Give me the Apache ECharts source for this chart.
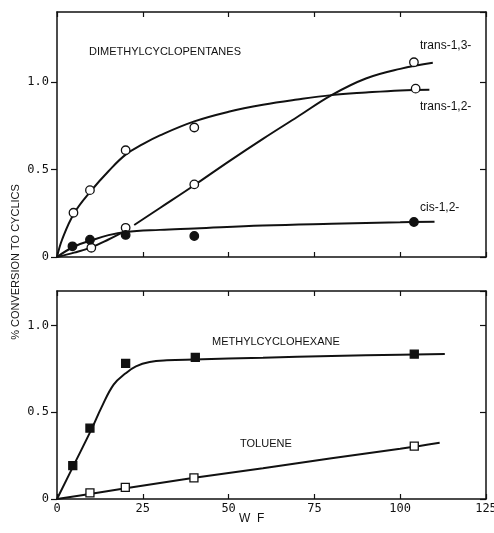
<!DOCTYPE html>
<html><head><meta charset="utf-8">
<script src="https://cdn.jsdelivr.net/npm/echarts@6/dist/echarts.min.js"></script>
<style>html,body{margin:0;padding:0;background:#fff}#c{width:494px;height:533px}</style>
</head><body><div id="c"></div>
<script>
// ---- data ----
const xTicks = [0, 25, 50, 75, 100, 125];
const trans13Pts = [[10,0.053],[20,0.167],[40,0.415],[104,1.113]];
const trans12Pts = [[4.8,0.253],[9.6,0.382],[20,0.61],[40,0.74],[104.5,0.962]];
const cis12Pts = [[4.5,0.061],[9.6,0.099],[20,0.126],[40,0.12],[104,0.2]];
const mchPts = [[4.6,0.193],[9.6,0.409],[20,0.782],[40.3,0.817],[104.1,0.836]];
const toluenePts = [[9.6,0.035],[19.9,0.067],[39.9,0.122],[104.1,0.305]];

const trans12Curve = [[0,0],[1.5,0.1],[5,0.25],[10,0.38],[15,0.49],[20,0.585],[25,0.645],[30,0.695],[40,0.775],[50,0.83],[60,0.87],[70,0.9],[80,0.925],[90,0.94],[100,0.952],[108.5,0.956]];
const trans13CurveA = [[0,0],[5,0.025],[10,0.055],[15,0.1],[19.5,0.145]];
const trans13CurveB = [[22.5,0.183],[30,0.28],[40,0.41],[50,0.545],[60,0.675],[70,0.8],[80,0.925],[90,1.02],[100,1.075],[109.5,1.11]];
const cis12Curve = [[0,0],[5,0.06],[10,0.095],[15,0.125],[20,0.143],[30,0.155],[40,0.163],[60,0.18],[80,0.19],[100,0.198],[110,0.202]];
const mchCurve = [[0,0],[5,0.2],[10,0.4],[13,0.53],[16.5,0.66],[20,0.725],[23,0.765],[27,0.79],[32,0.8],[40,0.805],[60,0.815],[80,0.825],[100,0.832],[113,0.836]];
const tolueneCurve = [[0,0],[10,0.03],[20,0.062],[40,0.122],[60,0.177],[80,0.235],[100,0.29],[111.5,0.325]];

const yTopMax = 1.4, yBotMax = 1.2;
// ---- chart ----
const ink = '#111';
const monoFont = '"DejaVu Sans Mono", "Liberation Mono", monospace';
const sansFont = '"Liberation Sans", Arial, sans-serif';
const fmtY = v => (v === 0 ? '0' : v.toFixed(1));

function xAx(grid, pos, showLabel) {
  return {
    type: 'value', gridIndex: grid, position: pos, min: xTicks[0], max: xTicks[xTicks.length-1], interval: 25,
    axisLine: { show: true, onZero: false, lineStyle: { color: ink, width: 1.5 } },
    axisTick: { show: true, inside: true, length: 5, lineStyle: { color: ink, width: 1.2 } },
    axisLabel: { show: showLabel, color: ink, fontFamily: monoFont, fontSize: 12, margin: 4 },
    splitLine: { show: false }
  };
}
function yAx(grid, pos, max, showLabel) {
  return {
    type: 'value', gridIndex: grid, position: pos, min: 0, max: max, interval: 0.5,
    axisLine: { show: true, onZero: false, lineStyle: { color: ink, width: 1.5 } },
    axisTick: { show: true, inside: pos === 'right', length: 6, lineStyle: { color: ink, width: 1.2 } },
    axisLabel: { show: showLabel, color: ink, fontFamily: monoFont, fontSize: 12, margin: 8, formatter: fmtY, showMaxLabel: false },
    splitLine: { show: false }
  };
}
function curve(data, xi, yi) {
  return { type: 'line', xAxisIndex: xi, yAxisIndex: yi, data: data, smooth: 0.4,
    showSymbol: false, symbol: 'none', lineStyle: { color: ink, width: 2 }, silent: true, z: 2 };
}
function pts(data, xi, yi, symbol, filled) {
  return { type: 'scatter', xAxisIndex: xi, yAxisIndex: yi, data: data, symbol: symbol, symbolSize: symbol === 'rect' ? 8 : 8.5,
    itemStyle: { color: filled ? ink : '#fff', borderColor: ink, borderWidth: 1.3, opacity: 1 }, z: 3 };
}

const chart = echarts.init(document.getElementById('c'), null, { renderer: 'canvas' });
chart.setOption({
  backgroundColor: '#fff',
  animation: false,
  grid: [
    { left: 57, right: 8, top: 12, height: 245, outerBoundsMode: 'none', containLabel: false },
    { left: 57, right: 8, top: 291, height: 208, outerBoundsMode: 'none', containLabel: false }
  ],
  xAxis: [ xAx(0, 'bottom', false), xAx(0, 'top', false), xAx(1, 'bottom', true), xAx(1, 'top', false) ],
  yAxis: [ yAx(0, 'left', yTopMax, true), yAx(0, 'right', yTopMax, false), yAx(1, 'left', yBotMax, true), yAx(1, 'right', yBotMax, false) ],
  series: [
    curve(trans12Curve, 0, 0),
    curve(trans13CurveA, 0, 0),
    curve(trans13CurveB, 0, 0),
    curve(cis12Curve, 0, 0),
    pts(trans12Pts, 0, 0, 'circle', false),
    pts(trans13Pts, 0, 0, 'circle', false),
    pts(cis12Pts, 0, 0, 'circle', true),
    curve(mchCurve, 2, 2),
    curve(tolueneCurve, 2, 2),
    pts(mchPts, 2, 2, 'rect', true),
    pts(toluenePts, 2, 2, 'rect', false)
  ],
  graphic: [
    { type: 'text', left: 89, top: 46, style: { text: 'DIMETHYLCYCLOPENTANES', fill: ink, font: '11px ' + sansFont } },
    { type: 'text', left: 420, top: 40, style: { text: 'trans-1,3-', fill: ink, font: '12px ' + sansFont } },
    { type: 'text', left: 420, top: 101, style: { text: 'trans-1,2-', fill: ink, font: '12px ' + sansFont } },
    { type: 'text', left: 420, top: 202, style: { text: 'cis-1,2-', fill: ink, font: '12px ' + sansFont } },
    { type: 'text', left: 212, top: 336, style: { text: 'METHYLCYCLOHEXANE', fill: ink, font: '11px ' + sansFont } },
    { type: 'text', left: 240, top: 438, style: { text: 'TOLUENE', fill: ink, font: '11px ' + sansFont } },
    { type: 'text', left: 239, top: 513, style: { text: 'W  F', fill: ink, font: '12px ' + sansFont } },
    { type: 'text', x: 16, y: 262, rotation: Math.PI / 2, style: { text: '% CONVERSION TO CYCLICS', fill: ink, font: '11px ' + sansFont, align: 'center', verticalAlign: 'middle' } }
  ]
});
</script></body></html>
